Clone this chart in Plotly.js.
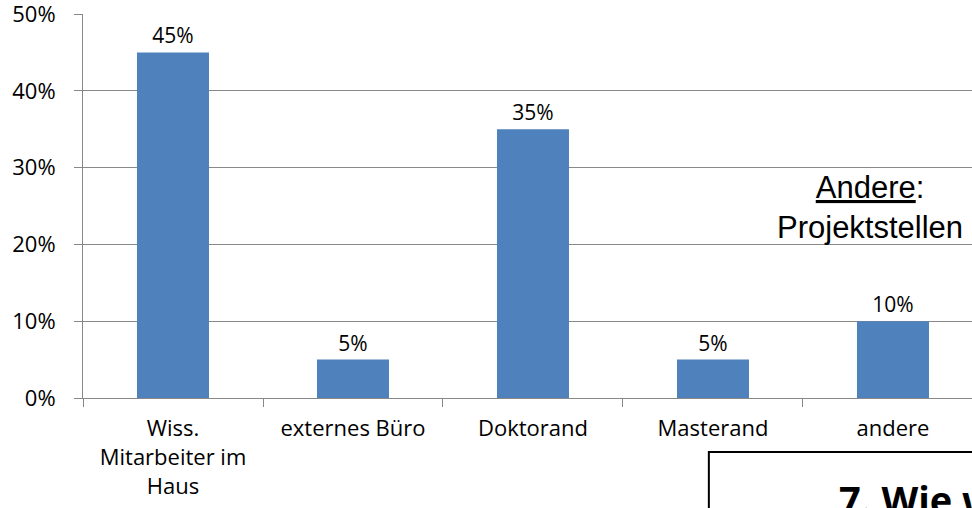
<!DOCTYPE html>
<html>
<head>
<meta charset="utf-8">
<script src="https://cdn.plot.ly/plotly-3.0.1.min.js"></script>
<style>html,body{margin:0;padding:0;background:#fff;}#chart{width:972px;height:508px;}</style>
</head>
<body>
<div id="chart"></div>
<script>
const categories = ["Wiss.<br>Mitarbeiter im<br>Haus", "externes Büro", "Doktorand", "Masterand", "andere"];
const values = [0.45, 0.05, 0.35, 0.05, 0.10];
const valueLabels = ["45%", "5%", "35%", "5%", "10%"];

const trace = {
  type: "bar",
  x: categories,
  y: values,
  text: valueLabels,
  textposition: "outside",
  cliponaxis: false,
  textfont: {family: "'Open Sans', sans-serif", size: 21, color: "#000"},
  marker: {color: "#4F81BD", line: {width: 0}},
  width: 0.4,
  hoverinfo: "none"
};

const layout = {
  width: 972, height: 508,
  margin: {l: 83, r: 0, t: 14, b: 110},
  paper_bgcolor: "#fff", plot_bgcolor: "#fff",
  showlegend: false,
  font: {family: "'Open Sans', sans-serif", size: 22, color: "#000"},
  xaxis: {
    type: "category",
    range: [-0.5, 4.439],
    showline: true, linecolor: "#888", linewidth: 1,
    ticks: "outside", tickson: "boundaries", ticklen: 8, tickcolor: "#888",
    showgrid: false, zeroline: false,
    ticklabelstandoff: 11,
    ticklabeloverflow: "allow",
    tickfont: {size: 22}
  },
  yaxis: {
    range: [0, 0.5],
    dtick: 0.1, tickformat: ".0%",
    showline: true, linecolor: "#888", linewidth: 1,
    ticks: "outside", ticklen: 8, tickcolor: "#888",
    showgrid: true, gridcolor: "#888", gridwidth: 1,
    zeroline: false,
    ticklabelstandoff: 14,
    ticklabeloverflow: "allow",
    tickfont: {size: 22}
  },
  shapes: [{
    type: "rect", xref: "paper", yref: "paper",
    x0: 0.704, x1: 1.2, y0: -0.1406, y1: -0.6,
    line: {color: "#000", width: 2}, fillcolor: "rgba(0,0,0,0)"
  }],
  annotations: [
    {
      xref: "paper", yref: "paper", x: 0.885, y: 0.497,
      xanchor: "center", yanchor: "middle", align: "center",
      text: "<u>Andere</u>:<br>Projektstellen", showarrow: false,
      font: {family: "'Liberation Sans', Arial, sans-serif", size: 31, color: "#000"}
    },
    {
      xref: "paper", yref: "paper", x: 0.848, y: -0.19,
      xanchor: "left", yanchor: "top",
      text: "<b>7. Wie werden die Daten erhoben?</b>", showarrow: false,
      font: {family: "'Open Sans', sans-serif", size: 38, color: "#000"}
    }
  ]
};

Plotly.newPlot("chart", [trace], layout, {staticPlot: true, displayModeBar: false});
</script>
</body>
</html>
